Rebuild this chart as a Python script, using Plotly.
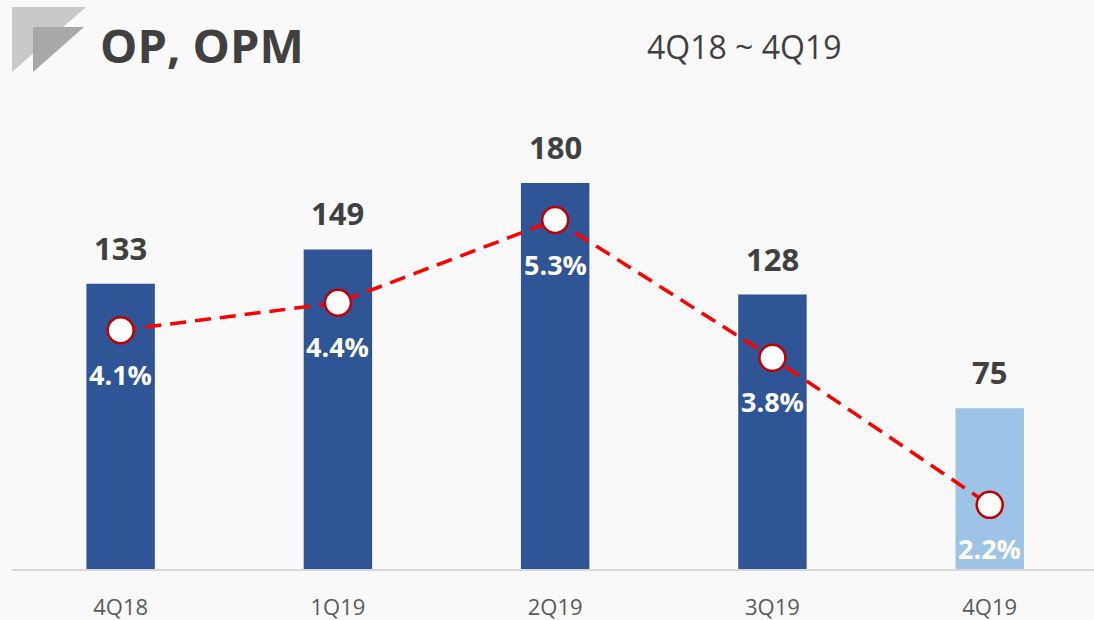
import plotly.graph_objects as go

# ---- data ----
quarters = ["4Q18", "1Q19", "2Q19", "3Q19", "4Q19"]
op_values = [133, 149, 180, 128, 75]
opm_values = [4.1, 4.4, 5.3, 3.8, 2.2]
opm_labels = ["4.1%", "4.4%", "5.3%", "3.8%", "2.2%"]
bar_colors = ["#2F5597", "#2F5597", "#2F5597", "#2F5597", "#9DC3E6"]

W, H = 1094, 620
L, R, T, B = 12, 0, 100, 51
pw, ph = W - L - R, H - T - B

def px(x):
    return (x - L) / pw

def py(y):
    return (H - B - y) / ph

fig = go.Figure()

fig.add_trace(go.Bar(
    x=quarters, y=op_values, marker=dict(color=bar_colors, line=dict(width=0)),
    width=0.315, showlegend=False, hoverinfo="skip",
))

fig.add_trace(go.Scatter(
    x=quarters, y=opm_values, yaxis="y2", mode="lines+markers",
    line=dict(color="#FF0000", width=3.5, dash="16px,9px"),
    marker=dict(size=26, color="white", line=dict(color="#C00000", width=2.5)),
    showlegend=False, hoverinfo="skip",
))

annotations = []
for q, v in zip(quarters, op_values):
    annotations.append(dict(
        x=q, y=v, xref="x", yref="y", text=f"<b>{v}</b>", showarrow=False,
        yanchor="middle", yshift=36,
        font=dict(family="Open Sans", size=31, color="#404040"),
    ))
for q, v, t in zip(quarters, opm_values, opm_labels):
    annotations.append(dict(
        x=q, y=v, xref="x", yref="y2", text=f"<b>{t}</b>", showarrow=False,
        yanchor="middle", yshift=-44,
        font=dict(family="Open Sans", size=27, color="white"),
    ))

# title + subtitle
annotations.append(dict(
    x=px(98), y=py(45), xref="paper", yref="paper", text="<b>OP, OPM</b>",
    showarrow=False, xanchor="left", yanchor="middle",
    font=dict(family="Open Sans", size=47, color="#404040"),
))
annotations.append(dict(
    x=px(744), y=py(47), xref="paper", yref="paper", text="4Q18 ~ 4Q19",
    showarrow=False, xanchor="center", yanchor="middle",
    font=dict(family="Open Sans", size=32, color="#404040"),
))

shapes = [
    dict(type="path", xref="paper", yref="paper",
         path=f"M {px(12)} {py(7)} L {px(86)} {py(7)} L {px(12)} {py(72)} Z",
         fillcolor="#C9C9C9", line=dict(width=0), layer="above"),
    dict(type="path", xref="paper", yref="paper",
         path=f"M {px(33)} {py(27)} L {px(84)} {py(27)} L {px(33)} {py(72)} Z",
         fillcolor="#A8A8A8", line=dict(width=0), layer="above"),
]

fig.update_layout(
    width=W, height=H,
    margin=dict(l=L, r=R, t=T, b=B),
    paper_bgcolor="#F9F9F9", plot_bgcolor="rgba(0,0,0,0)",
    bargap=0.2,
    xaxis=dict(
        range=[-0.5, 4.48], showgrid=False, zeroline=False,
        showline=True, linecolor="#D9D9D9", linewidth=2,
        ticks="", ticklabelstandoff=18,
        tickfont=dict(family="Open Sans", size=22, color="#595959"),
    ),
    yaxis=dict(range=[0, 218.7], visible=False, showgrid=False),
    yaxis2=dict(range=[1.502, 6.606], overlaying="y", visible=False, showgrid=False),
    annotations=annotations,
    shapes=shapes,
)

fig.write_html(
    "out.html",
    config={"displayModeBar": False},
    post_script="document.body.style.margin='0';document.body.style.overflow='hidden';",
)
